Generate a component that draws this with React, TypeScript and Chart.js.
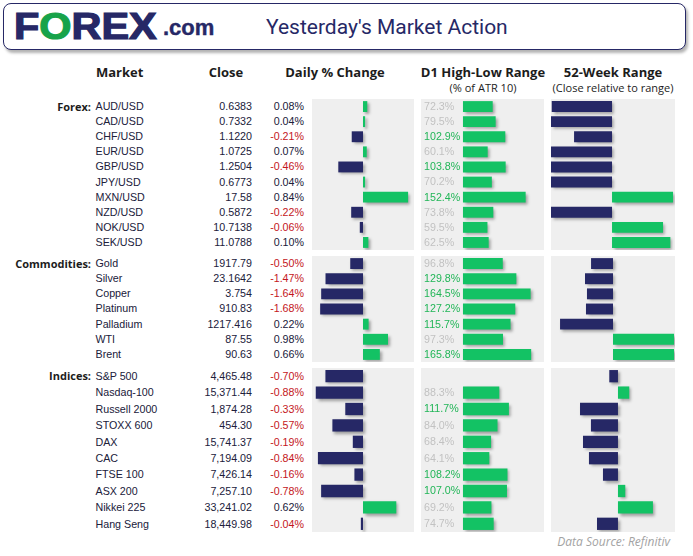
import React, { useEffect, useRef } from "react";
import { Chart, registerables } from "chart.js";
Chart.register(...registerables);

// ---------- DATA ----------
const forexMarkets = ["AUD/USD", "CAD/USD", "CHF/USD", "EUR/USD", "GBP/USD", "JPY/USD", "MXN/USD", "NZD/USD", "NOK/USD", "SEK/USD"];
const forexClose = ["0.6383", "0.7332", "1.1220", "1.0725", "1.2504", "0.6773", "17.58", "0.5872", "10.7138", "11.0788"];
const forexDaily = [0.08, 0.04, -0.21, 0.07, -0.46, 0.04, 0.84, -0.22, -0.06, 0.1];
const forexD1 = [72.3, 79.5, 102.9, 60.1, 103.8, 70.2, 152.4, 73.8, 59.5, 62.5];
const forexWeek52 = [-49.4, -50, -31.1, -50, -50, -50, 50, -50, 41.8, 47.8];

const commodityMarkets = ["Gold", "Silver", "Copper", "Platinum", "Palladium", "WTI", "Brent"];
const commodityClose = ["1917.79", "23.1642", "3.754", "910.83", "1217.416", "87.55", "90.63"];
const commodityDaily = [-0.5, -1.47, -1.64, -1.68, 0.22, 0.98, 0.66];
const commodityD1 = [96.8, 129.8, 164.5, 127.2, 115.7, 97.3, 165.8];
const commodityWeek52 = [-17.7, -22.6, -21.0, -21.8, -42.7, 49.2, 49.2];

const indexMarkets = ["S&P 500", "Nasdaq-100", "Russell 2000", "STOXX 600", "DAX", "CAC", "FTSE 100", "ASX 200", "Nikkei 225", "Hang Seng"];
const indexClose = ["4,465.48", "15,371.44", "1,874.28", "454.30", "15,741.37", "7,194.09", "7,426.14", "7,257.10", "33,241.02", "18,449.98"];
const indexDaily = [-0.7, -0.88, -0.33, -0.57, -0.19, -0.84, -0.16, -0.78, 0.62, -0.04];
const indexD1: (number | null)[] = [null, 88.3, 111.7, 84.0, 68.4, 64.1, 108.2, 107.0, 69.2, 74.7];
const indexWeek52 = [-7, 9.1, -30.6, -21.8, -28.2, -23.4, -12.1, 5.9, 28.2, -16.9];

// ---------- STYLE ----------
const NAVY = "#262866";
const GREEN = "#13c264";
const LOGO_GREEN = "#17a34a";
const RED = "#c4161c";
const TEXT = "#20203a";
const D1_GREEN = "#22b658";
const D1_GREY = "#c2c2c2";
const PANEL_BG = "#efefef";
const ROW_FONT = "'Liberation Sans', Arial, sans-serif";
const HEAD_FONT = "'Open Sans', sans-serif";

const shadowPlugin = {
  id: "barShadow",
  beforeDatasetsDraw(chart: any) {
    const c = chart.ctx;
    c.save();
    c.shadowColor = "rgba(0,0,0,0.35)";
    c.shadowBlur = 3;
    c.shadowOffsetX = 2;
    c.shadowOffsetY = 2;
  },
  afterDatasetsDraw(chart: any) {
    chart.ctx.restore();
  },
};

const d1TextPlugin = {
  id: "d1Text",
  afterDraw(chart: any) {
    const c = chart.ctx;
    const data = chart.data.datasets[0].data as (number | null)[];
    const y = chart.scales.y;
    c.save();
    c.font = `10.7px ${ROW_FONT}`;
    c.textAlign = "left";
    c.textBaseline = "middle";
    data.forEach((v, i) => {
      if (v == null) return;
      c.fillStyle = v >= 100 ? D1_GREEN : D1_GREY;
      c.fillText(v.toFixed(1) + "%", chart.chartArea.left + 3, y.getPixelForValue(i) + 0.5);
    });
    c.restore();
  },
};

type PanelProps = {
  left: number;
  top: number;
  width: number;
  height: number;
  values: (number | null)[];
  min: number;
  max: number;
  barPct: number;
  allGreen?: boolean;
  showText?: boolean;
};

function BarPanel({ left, top, width, height, values, min, max, barPct, allGreen, showText }: PanelProps) {
  const ref = useRef<HTMLCanvasElement>(null);
  useEffect(() => {
    const chart = new Chart(ref.current!, {
      type: "bar",
      data: {
        labels: values.map((_, i) => String(i)),
        datasets: [
          {
            data: values as any,
            backgroundColor: values.map((v) => (v == null ? "rgba(0,0,0,0)" : allGreen || v >= 0 ? GREEN : NAVY)),
            barPercentage: barPct,
            categoryPercentage: 1,
            borderWidth: 0,
          },
        ],
      },
      options: {
        indexAxis: "y",
        responsive: false,
        maintainAspectRatio: false,
        animation: false,
        events: [],
        layout: { padding: 0 },
        plugins: { legend: { display: false }, tooltip: { enabled: false } },
        scales: {
          x: { display: false, min, max },
          y: { display: false },
        },
      },
      plugins: showText ? [shadowPlugin, d1TextPlugin] : [shadowPlugin],
    });
    return () => chart.destroy();
  }, []);
  return (
    <canvas
      ref={ref}
      width={width}
      height={height}
      style={{ position: "absolute", left, top, width, height, background: PANEL_BG }}
    />
  );
}

type Section = {
  label: string;
  top: number;
  bottom: number;
  markets: string[];
  close: string[];
  daily: number[];
  d1: (number | null)[];
  week: number[];
  dailyRange: number;
  weekMin: number;
  weekMax: number;
  barPct: number;
};

const sections: Section[] = [
  { label: "Forex:", top: 99, bottom: 250, markets: forexMarkets, close: forexClose, daily: forexDaily, d1: forexD1, week: forexWeek52, dailyRange: 0.95, weekMin: -50, weekMax: 51.6, barPct: 0.72 },
  { label: "Commodities:", top: 256, bottom: 362, markets: commodityMarkets, close: commodityClose, daily: commodityDaily, d1: commodityD1, week: commodityWeek52, dailyRange: 2, weekMin: -50, weekMax: 50, barPct: 0.72 },
  { label: "Indices:", top: 368, bottom: 532, markets: indexMarkets, close: indexClose, daily: indexDaily, d1: indexD1, week: indexWeek52, dailyRange: 0.95, weekMin: -54, weekMax: 46, barPct: 0.75 },
];

const abs = (s: React.CSSProperties): React.CSSProperties => ({ position: "absolute", whiteSpace: "nowrap", ...s });

function SectionBlock({ s }: { s: Section }) {
  const n = s.markets.length;
  const h = s.bottom - s.top;
  const rowH = h / n;
  return (
    <>
      {s.markets.map((m, i) => {
        const top = s.top + i * rowH;
        const row: React.CSSProperties = { top, height: rowH, lineHeight: `${rowH}px`, fontFamily: ROW_FONT, fontSize: 10.7, color: TEXT };
        return (
          <React.Fragment key={m}>
            {i === 0 && (
              <div style={abs({ ...row, left: 0, width: 91, textAlign: "right", fontFamily: HEAD_FONT, fontWeight: 700, fontSize: 11, color: "#1c1c1c" })}>{s.label}</div>
            )}
            <div style={abs({ ...row, left: 95.5 })}>{m}</div>
            <div style={abs({ ...row, left: 170, width: 82, textAlign: "right" })}>{s.close[i]}</div>
            <div style={abs({ ...row, left: 254, width: 50, textAlign: "right", color: s.daily[i] < 0 ? RED : TEXT })}>
              {s.daily[i].toFixed(2) + "%"}
            </div>
          </React.Fragment>
        );
      })}
      <BarPanel left={312} top={s.top} width={102} height={h} values={s.daily} min={-s.dailyRange} max={s.dailyRange} barPct={s.barPct} />
      <BarPanel left={421} top={s.top} width={123} height={h} values={s.d1} min={-102} max={197} barPct={s.barPct} allGreen showText />
      <BarPanel left={551} top={s.top} width={124} height={h} values={s.week} min={s.weekMin} max={s.weekMax} barPct={s.barPct} />
    </>
  );
}

export default function App() {
  useEffect(() => {
    document.body.style.margin = "0";
  }, []);
  const head: React.CSSProperties = { fontFamily: HEAD_FONT, fontWeight: 700, fontSize: 13, color: "#1c1c1c", top: 63, lineHeight: "18px" };
  const sub: React.CSSProperties = { fontFamily: HEAD_FONT, fontSize: 11, color: "#1c1c1c", top: 80, lineHeight: "16px" };
  return (
    <div style={{ position: "relative", width: 693, height: 556, background: "#fff", overflow: "hidden" }}>
      {/* header box */}
      <div
        style={{
          position: "absolute",
          left: 3,
          top: 3,
          width: 681,
          height: 45,
          border: `1.5px solid ${NAVY}`,
          borderRadius: 8,
          boxShadow: "2px 3px 3px rgba(0,0,0,0.3)",
          background: "#fff",
        }}
      />
      <div
        style={abs({
          left: 14,
          top: 8.5,
          fontFamily: ROW_FONT,
          fontWeight: 700,
          fontSize: 36,
          color: NAVY,
          lineHeight: "36px",
          WebkitTextStroke: `1.2px ${NAVY}`,
          transform: "scaleX(1.15)",
          transformOrigin: "left top",
        })}
      >
        F<span style={{ color: LOGO_GREEN, WebkitTextStroke: `1.2px ${LOGO_GREEN}` }}>O</span>REX
      </div>
      <div
        style={abs({
          left: 163,
          top: 17,
          fontFamily: ROW_FONT,
          fontWeight: 700,
          fontSize: 22,
          lineHeight: "22px",
          color: NAVY,
          WebkitTextStroke: `0.4px ${NAVY}`,
        })}
      >
        .com
      </div>
      <div style={abs({ left: 266, top: 13, fontFamily: "Roboto, sans-serif", fontSize: 21, color: NAVY, lineHeight: "28px" })}>
        Yesterday's Market Action
      </div>

      {/* column headers */}
      <div style={abs({ ...head, left: 96 })}>Market</div>
      <div style={abs({ ...head, left: 186, width: 80, textAlign: "center" })}>Close</div>
      <div style={abs({ ...head, left: 275, width: 120, textAlign: "center" })}>Daily % Change</div>
      <div style={abs({ ...head, left: 413, width: 140, textAlign: "center" })}>D1 High-Low Range</div>
      <div style={abs({ ...sub, left: 413, width: 140, textAlign: "center" })}>(% of ATR 10)</div>
      <div style={abs({ ...head, left: 543, width: 140, textAlign: "center" })}>52-Week Range</div>
      <div style={abs({ ...sub, left: 543, width: 140, textAlign: "center" })}>(Close relative to range)</div>

      {sections.map((s) => (
        <SectionBlock key={s.label} s={s} />
      ))}

      <div style={abs({ left: 530, width: 140, textAlign: "right", top: 532, lineHeight: "20px", fontFamily: HEAD_FONT, fontStyle: "italic", fontSize: 12, color: "#a3a3a3" })}>
        Data Source: Refinitiv
      </div>
    </div>
  );
}
